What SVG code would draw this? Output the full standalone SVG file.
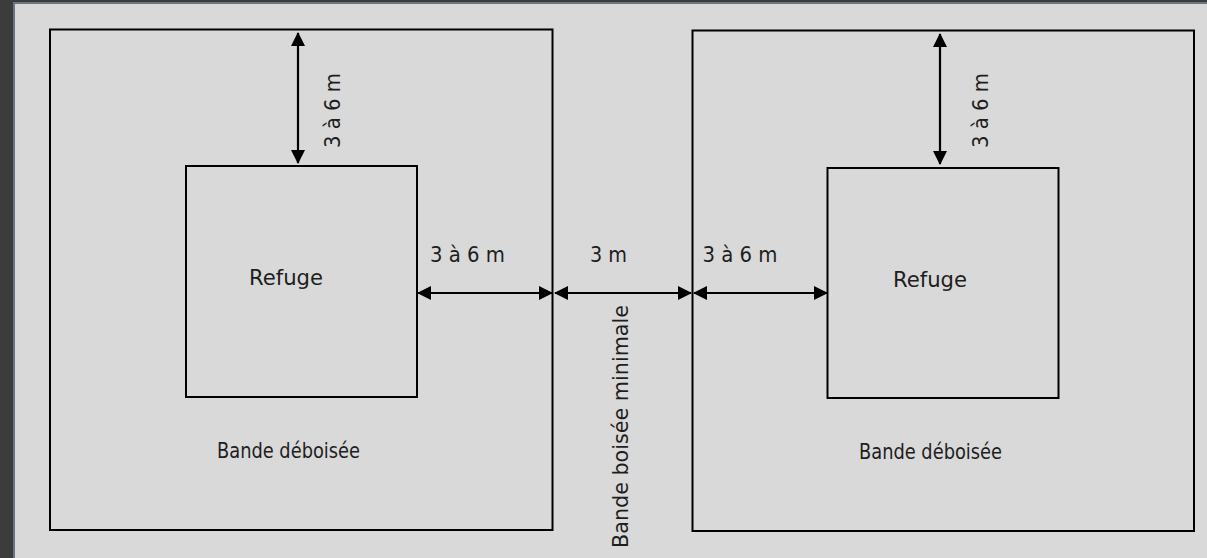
<svg xmlns="http://www.w3.org/2000/svg" width="1207" height="558" viewBox="0 0 1207 558">
<style>
.box{fill:none;stroke:#000;stroke-width:2}
.dim{fill:none;stroke:#000;stroke-width:2.2;marker-start:url(#ah);marker-end:url(#ah)}
text{font-family:"DejaVu Sans","Liberation Sans",sans-serif;font-size:21px;fill:#1e1e1e}
</style>
<defs>
<marker id="ah" viewBox="0 0 14 14" refX="13" refY="7" markerWidth="14" markerHeight="14" markerUnits="userSpaceOnUse" orient="auto-start-reverse">
<path d="M0,0 L14,7 L0,14 Z" fill="#000"/>
</marker>
</defs>
<rect x="0" y="0" width="1207" height="558" fill="#3c3c3c"/>
<rect x="14" y="3" width="1200" height="560" fill="#d9d9d9" stroke="#6b7482" stroke-width="2"/>
<g id="zone-gauche">
<rect class="box" x="50" y="29.5" width="502.5" height="500.5"/>
<text x="288.5" y="458" text-anchor="middle" textLength="143" lengthAdjust="spacingAndGlyphs">Bande déboisée</text>
</g>
<g id="zone-droite">
<rect class="box" x="692.5" y="30.5" width="501.5" height="500.5"/>
<text x="930.5" y="459" text-anchor="middle" textLength="143" lengthAdjust="spacingAndGlyphs">Bande déboisée</text>
</g>
<g id="refuge-gauche">
<rect class="box" x="186" y="166" width="231" height="231"/>
<text x="286" y="285" text-anchor="middle" textLength="74" lengthAdjust="spacingAndGlyphs">Refuge</text>
</g>
<g id="refuge-droite">
<rect class="box" x="827.5" y="168" width="231" height="230"/>
<text x="930" y="287" text-anchor="middle" textLength="74" lengthAdjust="spacingAndGlyphs">Refuge</text>
</g>
<g id="bande-boisee">
<text transform="translate(628,426.5) rotate(-90)" text-anchor="middle" textLength="243" lengthAdjust="spacingAndGlyphs">Bande boisée minimale</text>
</g>
<g id="connecteurs">
<line class="dim" x1="298" y1="33" x2="298" y2="163"/>
<line class="dim" x1="940" y1="34" x2="940" y2="164"/>
<line class="dim" x1="418" y1="293" x2="552" y2="293"/>
<line class="dim" x1="555" y1="293" x2="691" y2="293"/>
<line class="dim" x1="694" y1="293" x2="827" y2="293"/>
<text transform="translate(340,110.5) rotate(-90)" text-anchor="middle" textLength="75" lengthAdjust="spacingAndGlyphs">3 à 6 m</text>
<text transform="translate(988,110.5) rotate(-90)" text-anchor="middle" textLength="75" lengthAdjust="spacingAndGlyphs">3 à 6 m</text>
<text x="467.5" y="262" text-anchor="middle" textLength="75" lengthAdjust="spacingAndGlyphs">3 à 6 m</text>
<text x="608.5" y="262" text-anchor="middle" textLength="37" lengthAdjust="spacingAndGlyphs">3 m</text>
<text x="740" y="262" text-anchor="middle" textLength="75" lengthAdjust="spacingAndGlyphs">3 à 6 m</text>
</g>
</svg>
